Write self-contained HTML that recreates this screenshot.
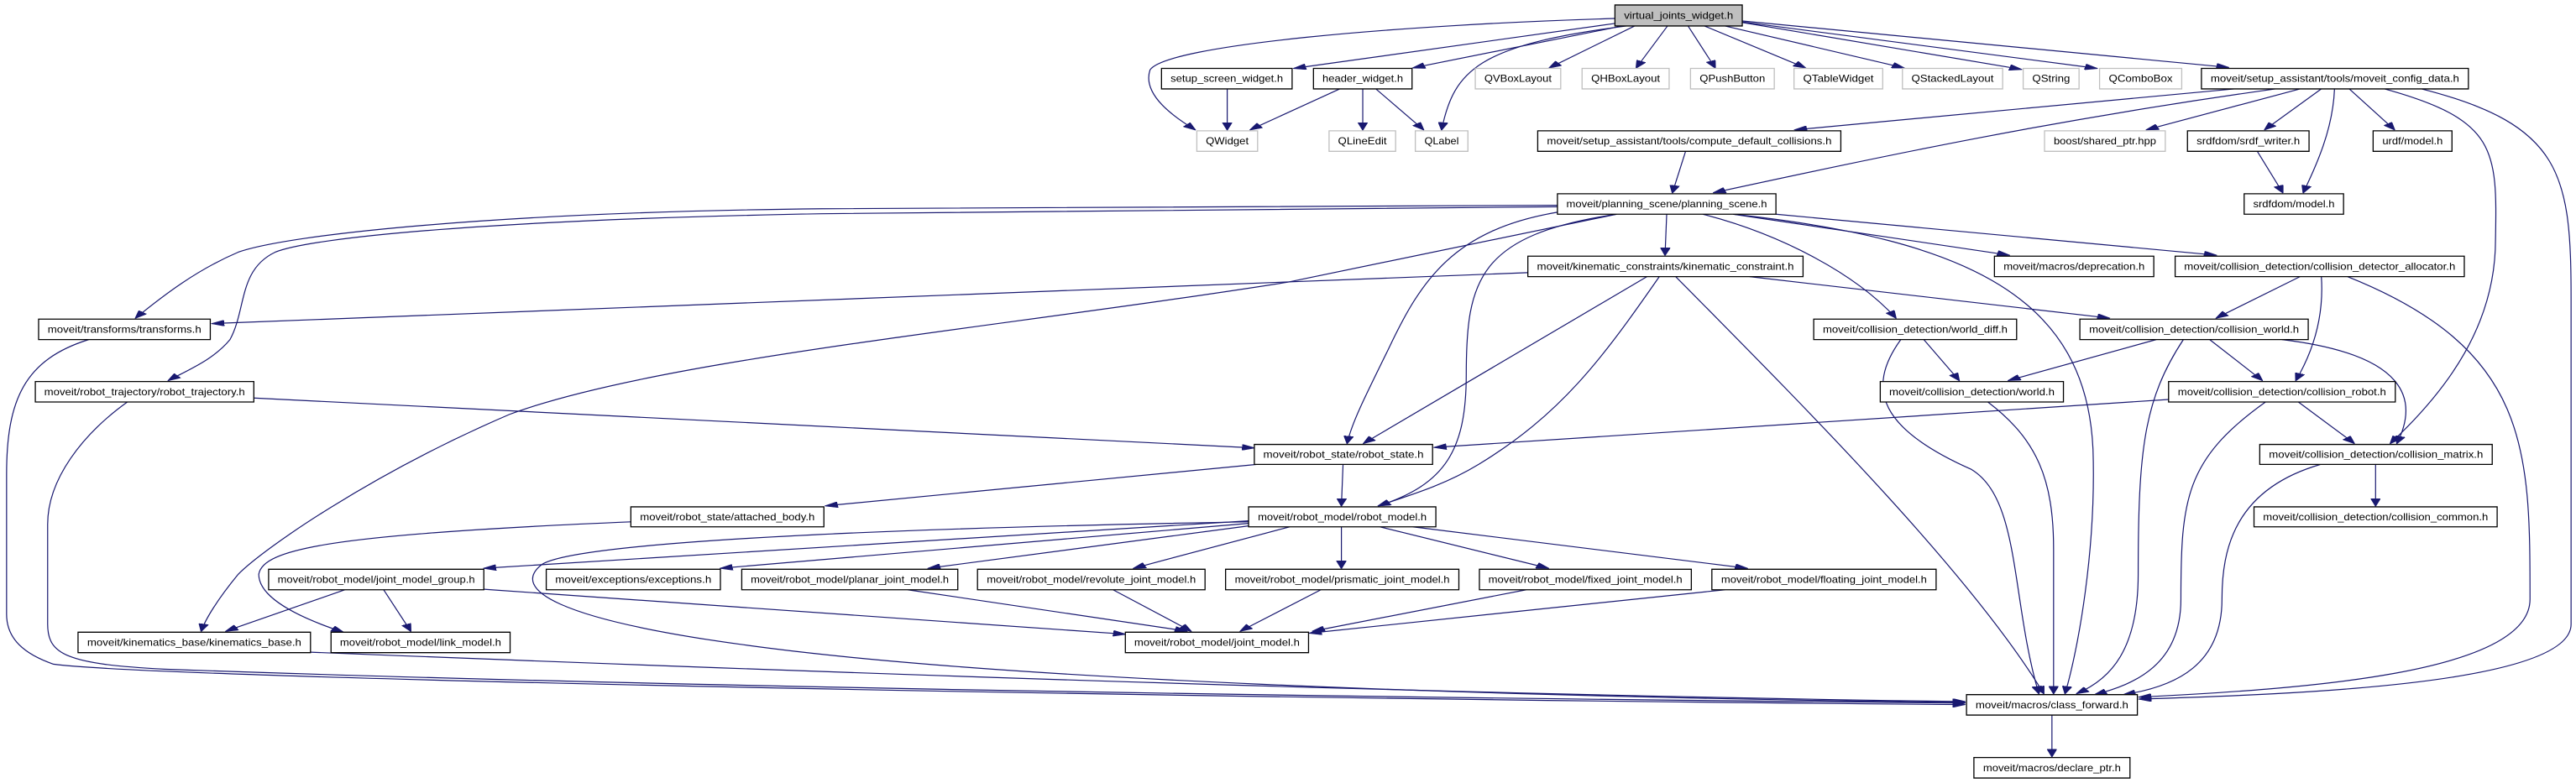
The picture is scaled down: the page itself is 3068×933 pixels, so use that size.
<!DOCTYPE html>
<html><head><meta charset="utf-8"><style>
html,body{margin:0;padding:0;background:#fff;}
svg{display:block;}
.n rect{fill:#fff;stroke:#000;stroke-width:1.3;vector-effect:non-scaling-stroke;}
.g rect{fill:#fff;stroke:#bfbfbf;stroke-width:1.3;vector-effect:non-scaling-stroke;}
.r rect{fill:#bfbfbf;stroke:#000;stroke-width:1.3;vector-effect:non-scaling-stroke;}
text{font-family:"Liberation Sans",sans-serif;font-size:12px;fill:#000;text-anchor:middle;}
.e path{fill:none;stroke:#191970;stroke-width:1.2;vector-effect:non-scaling-stroke;marker-end:url(#a);}
</style></head><body>
<svg width="3068" height="933" viewBox="0 0 3068 933">
<defs><marker id="a" markerUnits="userSpaceOnUse" markerWidth="16" markerHeight="12" refX="15" refY="6" orient="auto"><path d="M0,0 L16,6 L0,12 Z" fill="#191970" stroke="#191970"/></marker></defs>
<g transform="scale(0.97832,0.59503)">
<g class="e">
<path d="M1966,37 C1700,50 1420,90 1400,140 C1390,190 1430,235 1455,260"/>
<path d="M1966,47 L1575,137"/>
<path d="M1975,52 L1720,136"/>
<path d="M1980,52 C1800,90 1770,140 1755,260"/>
<path d="M1990,52 L1886,136"/>
<path d="M2030,52 L1992,136"/>
<path d="M2055,52 L2088,136"/>
<path d="M2075,52 L2198,136"/>
<path d="M2100,52 L2318,136"/>
<path d="M2121,45 L2461,139"/>
<path d="M2121,44 L2553,137"/>
<path d="M2121,42 L2713,135"/>
<path d="M1494,178 L1494,260"/>
<path d="M1631,178 L1522,260"/>
<path d="M1659,178 L1659,260"/>
<path d="M1675,178 L1733,260"/>
<path d="M2720,178 L2185,260"/>
<path d="M2770,178 C2500,240 2300,310 2086,386"/>
<path d="M2800,178 L2613,260"/>
<path d="M2826,178 L2757,260"/>
<path d="M2842,178 C2840,260 2820,330 2804,386"/>
<path d="M2860,178 L2915,260"/>
<path d="M2903,178 C3040,240 3040,300 3038,480 C3038,650 2980,780 2910,888"/>
<path d="M2948,178 C3120,250 3130,350 3130,600 L3130,1250 C3130,1370 2800,1390 2604,1400"/>
<path d="M2052,303 L2036,386"/>
<path d="M2748,303 L2779,386"/>
<path d="M1896,411 L1000,418 C600,425 350,470 290,505 C240,540 200,590 165,637"/>
<path d="M1896,414 L1000,428 C600,440 380,475 335,505 C290,540 300,620 280,680 C260,720 230,740 205,762"/>
<path d="M1896,425 C1770,460 1730,560 1690,700 C1660,800 1645,850 1640,888"/>
<path d="M1968,429 C1800,470 1785,560 1785,750 C1785,900 1760,970 1678,1013"/>
<path d="M1968,429 L1568,565 C1200,660 800,720 620,830 C450,950 320,1100 290,1150 C265,1200 250,1240 245,1264"/>
<path d="M2029,429 L2027,511"/>
<path d="M2073,429 C2170,470 2260,550 2308,637"/>
<path d="M2110,429 L2446,511"/>
<path d="M2162,429 L2698,511"/>
<path d="M2110,429 C2400,480 2540,600 2548,900 C2552,1100 2530,1300 2514,1389"/>
<path d="M1860,546 L258,648"/>
<path d="M2005,554 L1660,888"/>
<path d="M2020,554 C1950,720 1900,830 1800,930 C1760,970 1720,990 1678,1013"/>
<path d="M2040,554 C2200,820 2400,1150 2488,1389"/>
<path d="M2130,554 L2568,637"/>
<path d="M2800,554 L2698,637"/>
<path d="M2826,554 C2830,650 2810,720 2795,762"/>
<path d="M2858,554 C3080,700 3080,900 3080,1200 C3080,1350 2800,1380 2604,1396"/>
<path d="M2342,680 L2385,762"/>
<path d="M2314,680 C2270,780 2290,860 2400,940 C2460,1000 2448,1200 2482,1389"/>
<path d="M2625,680 L2445,762"/>
<path d="M2690,680 L2754,762"/>
<path d="M2778,680 C2930,710 2945,800 2918,888"/>
<path d="M2658,680 C2610,800 2603,900 2603,1150 C2603,1300 2570,1360 2528,1389"/>
<path d="M2420,805 C2480,880 2500,960 2500,1100 L2500,1389"/>
<path d="M2640,800 L1746,896"/>
<path d="M2798,805 L2866,888"/>
<path d="M2758,805 C2660,920 2655,1000 2655,1200 C2655,1330 2600,1370 2550,1391"/>
<path d="M2892,930 L2892,1013"/>
<path d="M2825,930 C2720,980 2705,1100 2705,1200 C2705,1330 2650,1375 2585,1391"/>
<path d="M309,797 L1527,897"/>
<path d="M155,805 C100,870 58,960 58,1050 L58,1250 C58,1310 80,1330 200,1340 C700,1370 1500,1395 2392,1408"/>
<path d="M108,680 C30,720 8,800 8,950 L8,1230 C8,1280 30,1310 65,1330 C200,1360 1500,1400 2392,1411"/>
<path d="M378,1306 C900,1340 1700,1390 2392,1405"/>
<path d="M1530,930 L1005,1013"/>
<path d="M1635,930 L1633,1013"/>
<path d="M768,1045 C400,1070 320,1100 315,1150 C315,1200 370,1240 418,1266"/>
<path d="M1520,1043 L589,1138"/>
<path d="M1520,1048 L877,1138"/>
<path d="M1525,1052 L1130,1138"/>
<path d="M1570,1055 L1380,1138"/>
<path d="M1633,1055 L1633,1138"/>
<path d="M1680,1055 L1885,1138"/>
<path d="M1720,1055 L2127,1138"/>
<path d="M1520,1045 C1000,1060 700,1090 660,1130 C620,1180 680,1240 900,1290 C1200,1360 1800,1395 2392,1407"/>
<path d="M420,1181 L275,1264"/>
<path d="M467,1181 L500,1264"/>
<path d="M589,1180 L1370,1270"/>
<path d="M1105,1181 L1445,1264"/>
<path d="M1355,1181 L1450,1264"/>
<path d="M1608,1181 L1510,1264"/>
<path d="M1858,1181 L1598,1264"/>
<path d="M2100,1181 L1594,1268"/>
<path d="M2498,1432 L2498,1515"/>
</g>

<g class="r"><rect x="1966" y="10" width="155" height="42"/><text transform="translate(2043.5,31) scale(1.0222,1.6806)" y="4" textLength="130" lengthAdjust="spacingAndGlyphs">virtual_joints_widget.h</text></g>
<g class="n"><rect x="1414" y="137" width="159" height="41"/><text transform="translate(1493.5,157.5) scale(1.0222,1.6806)" y="4" textLength="134" lengthAdjust="spacingAndGlyphs">setup_screen_widget.h</text></g>
<g class="n"><rect x="1599" y="137" width="120" height="41"/><text transform="translate(1659,157.5) scale(1.0222,1.6806)" y="4" textLength="96" lengthAdjust="spacingAndGlyphs">header_widget.h</text></g>
<g class="g"><rect x="1457" y="262" width="74" height="41"/><text transform="translate(1494,282.5) scale(1.0222,1.6806)" y="4" textLength="51" lengthAdjust="spacingAndGlyphs">QWidget</text></g>
<g class="g"><rect x="1796" y="137" width="104" height="41"/><text transform="translate(1848,157.5) scale(1.0222,1.6806)" y="4" textLength="80" lengthAdjust="spacingAndGlyphs">QVBoxLayout</text></g>
<g class="g"><rect x="1926" y="137" width="106" height="41"/><text transform="translate(1979,157.5) scale(1.0222,1.6806)" y="4" textLength="82" lengthAdjust="spacingAndGlyphs">QHBoxLayout</text></g>
<g class="g"><rect x="2058" y="137" width="102" height="41"/><text transform="translate(2109,157.5) scale(1.0222,1.6806)" y="4" textLength="78" lengthAdjust="spacingAndGlyphs">QPushButton</text></g>
<g class="g"><rect x="2184" y="137" width="108" height="41"/><text transform="translate(2238,157.5) scale(1.0222,1.6806)" y="4" textLength="84" lengthAdjust="spacingAndGlyphs">QTableWidget</text></g>
<g class="g"><rect x="2316" y="137" width="122" height="41"/><text transform="translate(2377,157.5) scale(1.0222,1.6806)" y="4" textLength="98" lengthAdjust="spacingAndGlyphs">QStackedLayout</text></g>
<g class="g"><rect x="2463" y="137" width="68" height="41"/><text transform="translate(2497,157.5) scale(1.0222,1.6806)" y="4" textLength="45" lengthAdjust="spacingAndGlyphs">QString</text></g>
<g class="g"><rect x="2556" y="137" width="100" height="41"/><text transform="translate(2606,157.5) scale(1.0222,1.6806)" y="4" textLength="76" lengthAdjust="spacingAndGlyphs">QComboBox</text></g>
<g class="n"><rect x="2680" y="137" width="325" height="41"/><text transform="translate(2842.5,157.5) scale(1.0222,1.6806)" y="4" textLength="296" lengthAdjust="spacingAndGlyphs">moveit/setup_assistant/tools/moveit_config_data.h</text></g>
<g class="g"><rect x="1618" y="262" width="81" height="41"/><text transform="translate(1658.5,282.5) scale(1.0222,1.6806)" y="4" textLength="58" lengthAdjust="spacingAndGlyphs">QLineEdit</text></g>
<g class="g"><rect x="1723" y="262" width="64" height="41"/><text transform="translate(1755,282.5) scale(1.0222,1.6806)" y="4" textLength="41" lengthAdjust="spacingAndGlyphs">QLabel</text></g>
<g class="n"><rect x="1872" y="262" width="369" height="41"/><text transform="translate(2056.5,282.5) scale(1.0222,1.6806)" y="4" textLength="339" lengthAdjust="spacingAndGlyphs">moveit/setup_assistant/tools/compute_default_collisions.h</text></g>
<g class="g"><rect x="2489" y="262" width="147" height="41"/><text transform="translate(2562.5,282.5) scale(1.0222,1.6806)" y="4" textLength="122" lengthAdjust="spacingAndGlyphs">boost/shared_ptr.hpp</text></g>
<g class="n"><rect x="2663" y="262" width="148" height="41"/><text transform="translate(2737,282.5) scale(1.0222,1.6806)" y="4" textLength="123" lengthAdjust="spacingAndGlyphs">srdfdom/srdf_writer.h</text></g>
<g class="n"><rect x="2889" y="262" width="96" height="41"/><text transform="translate(2937,282.5) scale(1.0222,1.6806)" y="4" textLength="72" lengthAdjust="spacingAndGlyphs">urdf/model.h</text></g>
<g class="n"><rect x="2732" y="388" width="121" height="41"/><text transform="translate(2792.5,408.5) scale(1.0222,1.6806)" y="4" textLength="97" lengthAdjust="spacingAndGlyphs">srdfdom/model.h</text></g>
<g class="n"><rect x="1896" y="388" width="266" height="41"/><text transform="translate(2029,408.5) scale(1.0222,1.6806)" y="4" textLength="239" lengthAdjust="spacingAndGlyphs">moveit/planning_scene/planning_scene.h</text></g>
<g class="n"><rect x="1860" y="513" width="335" height="41"/><text transform="translate(2027.5,533.5) scale(1.0222,1.6806)" y="4" textLength="306" lengthAdjust="spacingAndGlyphs">moveit/kinematic_constraints/kinematic_constraint.h</text></g>
<g class="n"><rect x="2428" y="513" width="194" height="41"/><text transform="translate(2525,533.5) scale(1.0222,1.6806)" y="4" textLength="168" lengthAdjust="spacingAndGlyphs">moveit/macros/deprecation.h</text></g>
<g class="n"><rect x="2648" y="513" width="352" height="41"/><text transform="translate(2824,533.5) scale(1.0222,1.6806)" y="4" textLength="323" lengthAdjust="spacingAndGlyphs">moveit/collision_detection/collision_detector_allocator.h</text></g>
<g class="n"><rect x="47" y="639" width="209" height="41"/><text transform="translate(151.5,659.5) scale(1.0222,1.6806)" y="4" textLength="183" lengthAdjust="spacingAndGlyphs">moveit/transforms/transforms.h</text></g>
<g class="n"><rect x="2208" y="639" width="247" height="41"/><text transform="translate(2331.5,659.5) scale(1.0222,1.6806)" y="4" textLength="220" lengthAdjust="spacingAndGlyphs">moveit/collision_detection/world_diff.h</text></g>
<g class="n"><rect x="2532" y="639" width="278" height="41"/><text transform="translate(2671,659.5) scale(1.0222,1.6806)" y="4" textLength="250" lengthAdjust="spacingAndGlyphs">moveit/collision_detection/collision_world.h</text></g>
<g class="n"><rect x="43" y="764" width="266" height="41"/><text transform="translate(176,784.5) scale(1.0222,1.6806)" y="4" textLength="239" lengthAdjust="spacingAndGlyphs">moveit/robot_trajectory/robot_trajectory.h</text></g>
<g class="n"><rect x="2289" y="764" width="223" height="41"/><text transform="translate(2400.5,784.5) scale(1.0222,1.6806)" y="4" textLength="197" lengthAdjust="spacingAndGlyphs">moveit/collision_detection/world.h</text></g>
<g class="n"><rect x="2640" y="764" width="276" height="41"/><text transform="translate(2778,784.5) scale(1.0222,1.6806)" y="4" textLength="248" lengthAdjust="spacingAndGlyphs">moveit/collision_detection/collision_robot.h</text></g>
<g class="n"><rect x="1527" y="890" width="217" height="40"/><text transform="translate(1635.5,910) scale(1.0222,1.6806)" y="4" textLength="191" lengthAdjust="spacingAndGlyphs">moveit/robot_state/robot_state.h</text></g>
<g class="n"><rect x="2751" y="890" width="283" height="40"/><text transform="translate(2892.5,910) scale(1.0222,1.6806)" y="4" textLength="255" lengthAdjust="spacingAndGlyphs">moveit/collision_detection/collision_matrix.h</text></g>
<g class="n"><rect x="768" y="1015" width="235" height="40"/><text transform="translate(885.5,1035) scale(1.0222,1.6806)" y="4" textLength="208" lengthAdjust="spacingAndGlyphs">moveit/robot_state/attached_body.h</text></g>
<g class="n"><rect x="1520" y="1015" width="228" height="40"/><text transform="translate(1634,1035) scale(1.0222,1.6806)" y="4" textLength="201" lengthAdjust="spacingAndGlyphs">moveit/robot_model/robot_model.h</text></g>
<g class="n"><rect x="2744" y="1015" width="296" height="40"/><text transform="translate(2892,1035) scale(1.0222,1.6806)" y="4" textLength="268" lengthAdjust="spacingAndGlyphs">moveit/collision_detection/collision_common.h</text></g>
<g class="n"><rect x="327" y="1140" width="262" height="41"/><text transform="translate(458,1160.5) scale(1.0222,1.6806)" y="4" textLength="235" lengthAdjust="spacingAndGlyphs">moveit/robot_model/joint_model_group.h</text></g>
<g class="n"><rect x="665" y="1140" width="212" height="41"/><text transform="translate(771,1160.5) scale(1.0222,1.6806)" y="4" textLength="186" lengthAdjust="spacingAndGlyphs">moveit/exceptions/exceptions.h</text></g>
<g class="n"><rect x="903" y="1140" width="263" height="41"/><text transform="translate(1034.5,1160.5) scale(1.0222,1.6806)" y="4" textLength="236" lengthAdjust="spacingAndGlyphs">moveit/robot_model/planar_joint_model.h</text></g>
<g class="n"><rect x="1190" y="1140" width="277" height="41"/><text transform="translate(1328.5,1160.5) scale(1.0222,1.6806)" y="4" textLength="249" lengthAdjust="spacingAndGlyphs">moveit/robot_model/revolute_joint_model.h</text></g>
<g class="n"><rect x="1492" y="1140" width="284" height="41"/><text transform="translate(1634,1160.5) scale(1.0222,1.6806)" y="4" textLength="256" lengthAdjust="spacingAndGlyphs">moveit/robot_model/prismatic_joint_model.h</text></g>
<g class="n"><rect x="1801" y="1140" width="258" height="41"/><text transform="translate(1930,1160.5) scale(1.0222,1.6806)" y="4" textLength="231" lengthAdjust="spacingAndGlyphs">moveit/robot_model/fixed_joint_model.h</text></g>
<g class="n"><rect x="2084" y="1140" width="273" height="41"/><text transform="translate(2220.5,1160.5) scale(1.0222,1.6806)" y="4" textLength="245" lengthAdjust="spacingAndGlyphs">moveit/robot_model/floating_joint_model.h</text></g>
<g class="n"><rect x="95" y="1266" width="283" height="41"/><text transform="translate(236.5,1286.5) scale(1.0222,1.6806)" y="4" textLength="255" lengthAdjust="spacingAndGlyphs">moveit/kinematics_base/kinematics_base.h</text></g>
<g class="n"><rect x="403" y="1266" width="218" height="41"/><text transform="translate(512,1286.5) scale(1.0222,1.6806)" y="4" textLength="192" lengthAdjust="spacingAndGlyphs">moveit/robot_model/link_model.h</text></g>
<g class="n"><rect x="1370" y="1266" width="223" height="41"/><text transform="translate(1481.5,1286.5) scale(1.0222,1.6806)" y="4" textLength="197" lengthAdjust="spacingAndGlyphs">moveit/robot_model/joint_model.h</text></g>
<g class="n"><rect x="2394" y="1391" width="208" height="41"/><text transform="translate(2498,1411.5) scale(1.0222,1.6806)" y="4" textLength="182" lengthAdjust="spacingAndGlyphs">moveit/macros/class_forward.h</text></g>
<g class="n"><rect x="2403" y="1517" width="190" height="41"/><text transform="translate(2498,1537.5) scale(1.0222,1.6806)" y="4" textLength="164" lengthAdjust="spacingAndGlyphs">moveit/macros/declare_ptr.h</text></g>
</g>
</svg>
</body></html>
